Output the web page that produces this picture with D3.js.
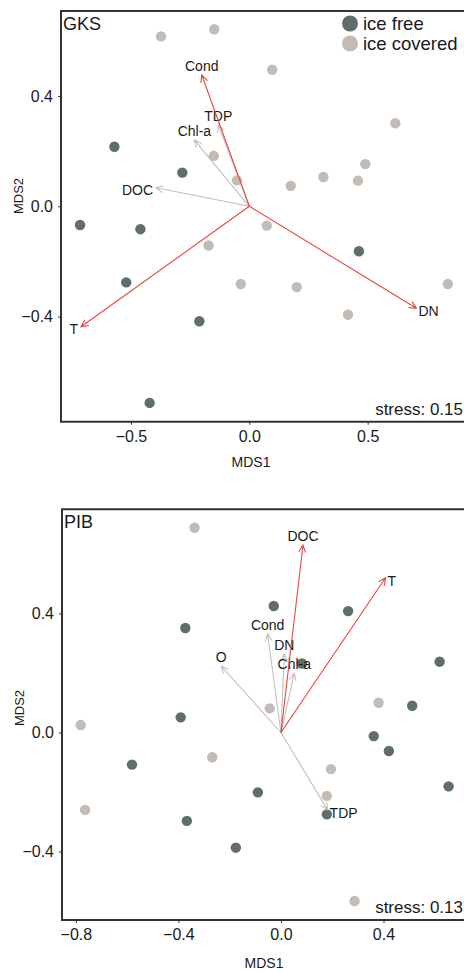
<!DOCTYPE html>
<html>
<head>
<meta charset="utf-8">
<script src="https://cdn.jsdelivr.net/npm/d3@7"></script>
<style>
  body { margin: 0; background: #fff; }
  text { font-family: "Liberation Sans", Arial, sans-serif; fill: #1a1a1a; }
</style>
</head>
<body>
<div id="viz"></div>
<script>
const width = 464;
const height = 972;
const freeColor = '#5f6d6d';
const coveredColor = '#c5bbb5';
const sigColor = '#e5473d';
const nsColor = '#c3bfbf';

// GKS site scores
const gksFreeX = [-0.570, -0.283, -0.715, -0.460, -0.520, -0.211, -0.421, 0.463];
const gksFreeY = [0.216, 0.122, -0.068, -0.083, -0.276, -0.417, -0.713, -0.163];
const gksCovX = [-0.373, -0.148, 0.097, 0.617, -0.150, -0.052, 0.175, 0.313, 0.459, 0.490, 0.074, -0.172, -0.036, 0.200, 0.417, 0.839];
const gksCovY = [0.616, 0.642, 0.495, 0.301, 0.183, 0.094, 0.074, 0.106, 0.093, 0.153, -0.070, -0.142, -0.282, -0.293, -0.393, -0.282];
// GKS environmental vectors
const gksVecNames = ['Cond', 'TDP', 'Chl-a', 'DOC', 'T', 'DN'];
const gksVecX = [-0.201, -0.131, -0.232, -0.394, -0.711, 0.706];
const gksVecY = [0.476, 0.295, 0.240, 0.067, -0.437, -0.370];
const gksVecSig = [true, false, false, false, true, true];
const gksXTicks = [-0.5, 0.0, 0.5];
const gksYTicks = [-0.4, 0.0, 0.4];

// PIB site scores
const pibFreeX = [-0.373, -0.391, -0.028, 0.262, 0.082, 0.619, 0.512, 0.362, 0.421, -0.581, -0.367, -0.176, -0.090, 0.179, 0.654];
const pibFreeY = [0.351, 0.051, 0.425, 0.408, 0.232, 0.238, 0.090, -0.012, -0.062, -0.108, -0.297, -0.387, -0.201, -0.275, -0.181];
const pibCovX = [-0.337, -0.781, -0.044, 0.381, -0.268, -0.764, 0.195, 0.179, 0.287];
const pibCovY = [0.688, 0.025, 0.081, 0.100, -0.083, -0.260, -0.123, -0.213, -0.566];
// PIB environmental vectors
const pibVecNames = ['DOC', 'T', 'Cond', 'DN', 'Chl-a', 'O', 'TDP'];
const pibVecX = [0.086, 0.408, -0.052, 0.013, 0.052, -0.233, 0.182];
const pibVecY = [0.630, 0.520, 0.331, 0.264, 0.199, 0.223, -0.260];
const pibVecSig = [true, true, false, false, false, false, false];
const pibXTicks = [-0.8, -0.4, 0.0, 0.4];
const pibYTicks = [-0.4, 0.0, 0.4];

const svg = d3.select('#viz')
  .append('svg')
    .attr('width', width)
    .attr('height', height);

function drawPanel(p) {
  const x = d3.scaleLinear().domain(p.xDomain).range([p.left, width]);
  const y = d3.scaleLinear().domain(p.yDomain).range([p.bottom, p.top]);
  const g = svg.append('g');

  // points
  const free = p.freeX.map((v, i) => ({x: v, y: p.freeY[i]}));
  const cov = p.covX.map((v, i) => ({x: v, y: p.covY[i]}));
  g.append('g').selectAll('circle')
    .data(cov)
    .join('circle')
      .attr('cx', d => x(d.x))
      .attr('cy', d => y(d.y))
      .attr('r', 5.2)
      .attr('fill', coveredColor);
  g.append('g').selectAll('circle')
    .data(free)
    .join('circle')
      .attr('cx', d => x(d.x))
      .attr('cy', d => y(d.y))
      .attr('r', 5.2)
      .attr('fill', freeColor);

  // vectors
  const vecs = p.names.map((n, i) => ({name: n, x: p.vx[i], y: p.vy[i], sig: p.sig[i]}));
  // grey ones first so red ones lie on top
  vecs.sort((a, b) => a.sig - b.sig);
  const x0 = x(0), y0 = y(0);
  const head = 8, ang = 0.45;
  vecs.forEach(v => {
    const tx = x(v.x), ty = y(v.y);
    const th = Math.atan2(ty - y0, tx - x0);
    const h1 = [tx - head * Math.cos(th - ang), ty - head * Math.sin(th - ang)];
    const h2 = [tx - head * Math.cos(th + ang), ty - head * Math.sin(th + ang)];
    g.append('path')
      .attr('d', `M${x0},${y0}L${tx},${ty}M${h1[0]},${h1[1]}L${tx},${ty}L${h2[0]},${h2[1]}`)
      .attr('fill', 'none')
      .attr('stroke', v.sig ? sigColor : nsColor)
      .attr('stroke-width', 1.1);

    // label side from the vector's direction
    let a = Math.atan2(y0 - ty, tx - x0) * 180 / Math.PI;
    if (a < 0) a += 360;
    const t = g.append('text')
      .style('font-size', '14px')
      .text(v.name);
    if (a < 58 || a >= 300) {
      t.attr('x', tx + 2).attr('y', ty + 3).attr('dy', '0.35em').attr('text-anchor', 'start');
    } else if (a < 150) {
      t.attr('x', tx).attr('y', ty - 4).attr('text-anchor', 'middle');
    } else if (a < 250) {
      t.attr('x', tx - 3).attr('y', ty + 2).attr('dy', '0.35em').attr('text-anchor', 'end');
    } else {
      t.attr('x', tx).attr('y', ty + 14).attr('text-anchor', 'middle');
    }
  });

  // frame
  svg.append('path')
    .attr('d', `M${width + 5},${p.top}H${p.left}V${p.bottom}H${width + 5}`)
    .attr('fill', 'none')
    .attr('stroke', '#333')
    .attr('stroke-width', 2);

  // axes
  const fmt = d3.format('.1f');
  const xAxis = svg.append('g')
    .attr('transform', `translate(0,${p.bottom})`)
    .call(d3.axisBottom(x).tickValues(p.xTicks).tickFormat(fmt).tickSize(3).tickPadding(6));
  const yAxis = svg.append('g')
    .attr('transform', `translate(${p.left},0)`)
    .call(d3.axisLeft(y).tickValues(p.yTicks).tickFormat(fmt).tickSize(3).tickPadding(5));
  [xAxis, yAxis].forEach(ax => {
    ax.select('.domain').remove();
    ax.selectAll('.tick line').attr('stroke', '#333');
    ax.selectAll('.tick text')
      .attr('fill', '#1a1a1a')
      .style('font-family', '"Liberation Sans", Arial, sans-serif')
      .style('font-size', '16px');
  });

  // titles
  svg.append('text')
    .attr('x', p.left + 2)
    .attr('y', p.top + 19)
    .style('font-size', '18px')
    .text(p.name);
  svg.append('text')
    .attr('x', 463)
    .attr('y', p.bottom - 7)
    .attr('text-anchor', 'end')
    .style('font-size', '17px')
    .text(p.stress);
  svg.append('text')
    .attr('x', p.xTitle[0])
    .attr('y', p.xTitle[1])
    .attr('text-anchor', 'middle')
    .style('font-size', '14px')
    .text('MDS1');
  svg.append('text')
    .attr('transform', `translate(${p.yTitle[0]},${p.yTitle[1]}) rotate(-90)`)
    .attr('text-anchor', 'middle')
    .attr('dy', '0.35em')
    .style('font-size', '13px')
    .text('MDS2');
}

drawPanel({
  name: 'GKS', stress: 'stress: 0.15',
  left: 61, top: 11, bottom: 421.7,
  xDomain: [-0.7955, 0.907], yDomain: [-0.781, 0.708],
  xTicks: gksXTicks, yTicks: gksYTicks,
  freeX: gksFreeX, freeY: gksFreeY, covX: gksCovX, covY: gksCovY,
  names: gksVecNames, vx: gksVecX, vy: gksVecY, sig: gksVecSig,
  xTitle: [251, 467], yTitle: [18, 196]
});

drawPanel({
  name: 'PIB', stress: 'stress: 0.13',
  left: 62, top: 509.3, bottom: 920,
  xDomain: [-0.854, 0.714], yDomain: [-0.630, 0.750],
  xTicks: pibXTicks, yTicks: pibYTicks,
  freeX: pibFreeX, freeY: pibFreeY, covX: pibCovX, covY: pibCovY,
  names: pibVecNames, vx: pibVecX, vy: pibVecY, sig: pibVecSig,
  xTitle: [264, 968], yTitle: [19, 708]
});

// legend
const legendLabels = ['ice free', 'ice covered'];
const legendColors = [freeColor, coveredColor];
const legend = svg.append('g');
legendLabels.forEach((l, i) => {
  legend.append('circle')
    .attr('cx', 350)
    .attr('cy', 23.5 + i * 20)
    .attr('r', 8)
    .attr('fill', legendColors[i]);
  legend.append('text')
    .attr('x', 363)
    .attr('y', 23.5 + i * 20)
    .attr('dy', '0.35em')
    .style('font-size', '18.5px')
    .text(l);
});
</script>
</body>
</html>
